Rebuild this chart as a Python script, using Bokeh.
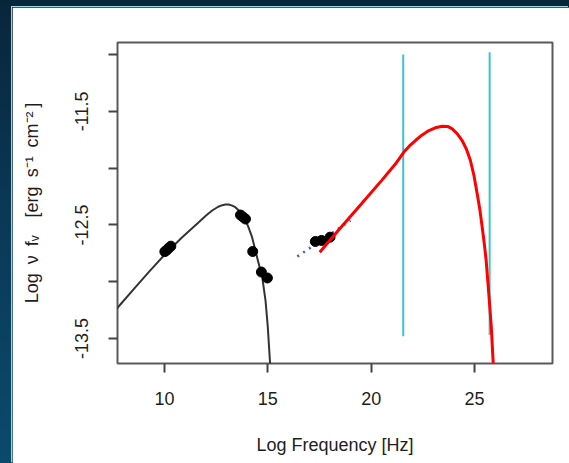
from bokeh.plotting import figure
from bokeh.models import FixedTicker, Range1d
from bokeh.layouts import column
from bokeh.embed import file_html
from bokeh.resources import INLINE

# ---- data ----
# synchrotron model curve (black)
sync_x = [7.60, 8.60, 9.24, 10.05, 10.86, 11.30, 11.66, 12.00, 12.31, 12.60, 12.80, 12.95, 13.10,
          13.25, 13.43, 13.65, 13.84, 14.04, 14.24, 14.48, 14.73, 14.89, 15.00, 15.10, 15.14]
sync_y = [-13.257, -13.048, -12.916, -12.754, -12.608, -12.535, -12.476, -12.420, -12.373, -12.340,
          -12.326, -12.320, -12.320, -12.328, -12.344, -12.382, -12.432, -12.508, -12.608, -12.784,
          -12.960, -13.166, -13.400, -13.690, -13.80]

# inverse-Compton model curve (red)
ic_x = [17.51, 18.50, 19.50, 20.50, 21.18, 21.58, 21.85, 22.14, 22.45, 22.79, 23.10, 23.43, 23.70,
        23.92, 24.15, 24.40, 24.60, 24.80, 24.97, 25.13, 25.26, 25.37, 25.47, 25.56, 25.69, 25.81,
        25.90, 25.95]
ic_y = [-12.74, -12.53, -12.32, -12.11, -11.962, -11.859, -11.805, -11.757, -11.710, -11.669,
        -11.645, -11.631, -11.633, -11.654, -11.695, -11.757, -11.830, -11.933, -12.065, -12.227,
        -12.370, -12.520, -12.665, -12.810, -13.110, -13.400, -13.710, -13.85]

# observed SED points (black)
obs_x = [10.02, 10.12, 10.21, 10.31, 13.68, 13.80, 13.92, 14.27, 14.69, 14.98, 17.30, 17.60, 18.01]
obs_y = [-12.735, -12.720, -12.703, -12.687, -12.413, -12.430, -12.448, -12.734, -12.915, -12.967,
         -12.646, -12.637, -12.608]

# X-ray power-law (blue dotted)
xray_x = [16.43, 19.00]
xray_y = [-12.778, -12.461]

# vertical markers (cyan)
band_x = [21.55, 25.73]
band_top = [-11.00, -10.98]
band_bottom = [-13.48, -13.47]

x_ticks = [10, 15, 20, 25]
x_tick_labels = ["10", "15", "20", "25"]
y_ticks = [-11.0, -11.5, -12.0, -12.5, -13.0, -13.5]
y_tick_labels = ["", "-11.5", "", "-12.5", "", "-13.5"]

FONT = "Liberation Sans"
TXT = "#1e1e1e"

p = figure(width=557, height=456, output_backend="svg", toolbar_location=None,
           x_range=Range1d(7.73, 28.77), y_range=Range1d(-13.72, -10.894),
           min_border_left=105, min_border_right=17, min_border_top=35, min_border_bottom=100,
           styles={"box-shadow": "-1px -1px 0 #9ad6e6"})
p.margin = (7, 0, 0, 12)
p.background_fill_color = "white"
p.border_fill_color = "white"
p.grid.visible = False
p.outline_line_color = "#5a5a5a"
p.outline_line_width = 2

p.line(sync_x, sync_y, line_color="#333333", line_width=2)
p.segment(x0=band_x, y0=band_bottom, x1=band_x, y1=band_top, line_color="#3cc3cb", line_width=2)
p.line(xray_x, xray_y, line_color="#4a4aff", line_width=2.5, line_dash="2 5")
p.scatter(obs_x, obs_y, size=10, fill_color="black", line_color="black")
p.line(ic_x, ic_y, line_color="#ff0000", line_width=3)

xa = p.xaxis[0]
xa.ticker = FixedTicker(ticks=x_ticks)
xa.major_label_overrides = {t: l for t, l in zip(x_ticks, x_tick_labels)}
xa.axis_label = "Log Frequency [Hz]"
ya = p.yaxis[0]
ya.ticker = FixedTicker(ticks=y_ticks)
ya.major_label_overrides = {t: l for t, l in zip(y_ticks, y_tick_labels)}
ya.axis_label = ("Log\u2002\u03bd\u2002f\u1d65\u2003[erg\u2002s\u207b\u00b9\u2002"
                 "cm\u207b\u00b2\u2009]")
ya.major_label_orientation = "vertical"

for ax in (xa, ya):
    ax.axis_line_color = None
    ax.major_tick_line_color = "#444444"
    ax.major_tick_line_width = 2
    ax.major_tick_out = 9
    ax.major_tick_in = 0
    ax.minor_tick_line_color = None
    ax.major_label_text_font = FONT
    ax.major_label_text_font_size = "18px"
    ax.major_label_text_color = TXT
    ax.axis_label_text_font = FONT
    ax.axis_label_text_font_size = "18px"
    ax.axis_label_text_font_style = "normal"
    ax.axis_label_text_color = TXT

xa.major_label_standoff = 19
xa.axis_label_standoff = 27
ya.major_label_standoff = 20
ya.axis_label_standoff = 31

lay = column(p, width=569, height=463,
             styles={"background": "linear-gradient(to bottom, #08263a 0%, #0a3a58 50%, #0b4a6c 100%)"})

open("out.html", "w").write(file_html(lay, INLINE))
